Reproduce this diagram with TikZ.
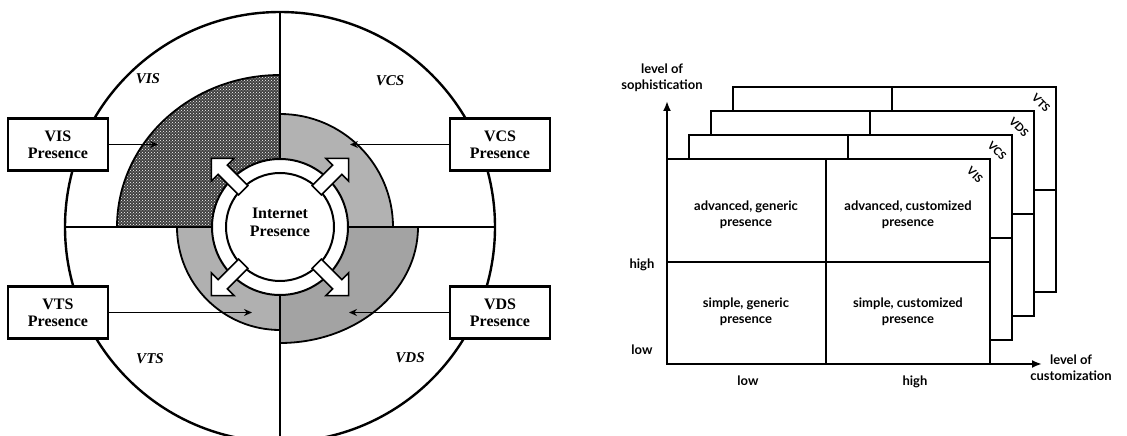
\documentclass[tikz,border=0pt]{standalone}
\usepackage{fontspec}
\setmainfont{Liberation Serif}
\newfontfamily\rfont{Lato}
\usepackage{tikz}
\usetikzlibrary{arrows.meta,positioning,patterns,calc}

\begin{document}
\begin{tikzpicture}[x=1pt,y=1pt,
  pbox/.style={rectangle, draw, line width=2.2pt, fill=white, minimum width=100pt,
    minimum height=52pt, align=center, inner sep=2pt,
    font=\fontsize{16}{17}\selectfont\bfseries},
  sector/.style={draw, line width=1.8pt},
  zone/.style={font=\fontsize{15}{16}\selectfont\bfseries\itshape},
  arr/.style={-{Stealth[length=8pt,width=7pt]}, line width=1.8pt},
  blockarr/.style={draw, line width=1.6pt, fill=white, line join=miter},
  layer/.style={draw, line width=2.2pt, fill=white},
  cell/.style={align=center, font=\fontsize{13}{16}\selectfont\rfont\bfseries},
  ax/.style={-{Latex[length=10pt,width=8pt]}, line width=2.2pt},
  lbl/.style={align=center, font=\fontsize{13}{16}\selectfont\rfont\bfseries}
]
\useasboundingbox (0,0) rectangle (1127,436);

% left: the presence wheel
\coordinate (ctr) at (280,209);
\draw[line width=2.4pt] (ctr) circle[radius=215pt];
\draw[line width=2pt] ($(ctr)+(-214,0)$) -- ($(ctr)+(216,0)$);
\draw[line width=2pt] ($(ctr)+(0,215)$) -- (280,0);

\draw[sector, preaction={fill=black!75}, pattern=crosshatch dots, pattern color=white]
  (ctr) -- ++(-163,0) arc[start angle=180, end angle=90, x radius=163pt, y radius=152pt] -- cycle;
\draw[sector, fill=gray!60]
  (ctr) -- ++(0,113) arc[start angle=90, end angle=0, radius=113pt] -- cycle;
\draw[sector, fill=gray!72]
  (ctr) -- ++(138,0) arc[start angle=0, end angle=-90, x radius=138pt, y radius=116pt] -- cycle;
\draw[sector, fill=gray!62]
  (ctr) -- ++(0,-103) arc[start angle=-90, end angle=-180, radius=103pt] -- cycle;

\draw[line width=2pt, fill=white] (ctr) circle[radius=68pt];
\draw[line width=2pt, fill=white] (ctr) circle[radius=54pt];
\foreach \a in {45,135,225,315}
  \draw[blockarr, shift={(ctr)}, rotate=\a]
    (52,-6.5) -- (81,-6.5) -- (81,-16) -- (97,0) -- (81,16) -- (81,6.5) -- (52,6.5) -- cycle;
\node[align=center, font=\fontsize{16}{18}\selectfont\bfseries] (inet) at (280,214) {Internet\\Presence};

\node[zone] (vislbl) at (148,357) {VIS};
\node[zone] (vcslbl) at (390,355) {VCS};
\node[zone] (vtslbl) at (150,77) {VTS};
\node[zone] (vdslbl) at (410,78) {VDS};

\node[pbox] (vis) at (58,291.5) {VIS\\Presence};
\node[pbox] (vcs) at (500,291.5) {VCS\\Presence};
\node[pbox] (vts) at (58,123.5) {VTS\\Presence};
\node[pbox] (vds) at (500,123.5) {VDS\\Presence};

\coordinate (visend) at (158,291.5);
\coordinate (vcsend) at (350,291.5);
\coordinate (vtsend) at (252,123.5);
\coordinate (vdsend) at (349,123.5);
\draw[arr] (vis) -- (visend);
\draw[arr] (vcs) -- (vcsend);
\draw[arr] (vts) -- (vtsend);
\draw[arr] (vds) -- (vdsend);

% right: stacked presence matrices
\foreach \i/\nm in {3/VTS,2/VDS,1/VCS,0/VIS} {
  \draw[layer] (667+22*\i,72+24*\i) rectangle (990+22*\i,277+24*\i);
  \draw[line width=2.2pt] (826+22*\i,72+24*\i) -- (826+22*\i,277+24*\i);
  \draw[line width=2.2pt] (667+22*\i,174+24*\i) -- (990+22*\i,174+24*\i);
  \node[rotate=-45, inner sep=0pt, font=\fontsize{11}{12}\selectfont\rfont\bfseries]
    at (975+22*\i,261+24*\i) {\nm};
}
\node[cell] (advgen) at (746,221) {advanced, generic\\presence};
\node[cell] (advcust) at (908,221) {advanced, customized\\presence};
\node[cell] (simgen) at (746,124) {simple, generic\\presence};
\node[cell] (simcust) at (908,124) {simple, customized\\presence};

\coordinate (orig) at (667,72);
\coordinate (ytip) at (667,335);
\coordinate (xtip) at (1042,72);
\draw[ax] (orig) -- (ytip);
\draw[ax] (orig) -- (xtip);

\node[lbl] (soph) at (662,358) {level of\\sophistication};
\node[lbl] (cust) at (1071,68) {level of\\customization};
\node[lbl] (yhigh) at (642,171) {high};
\node[lbl] (ylow) at (642,86) {low};
\node[lbl] (xlow) at (748,55) {low};
\node[lbl] (xhigh) at (915,54) {high};
\end{tikzpicture}
\end{document}
